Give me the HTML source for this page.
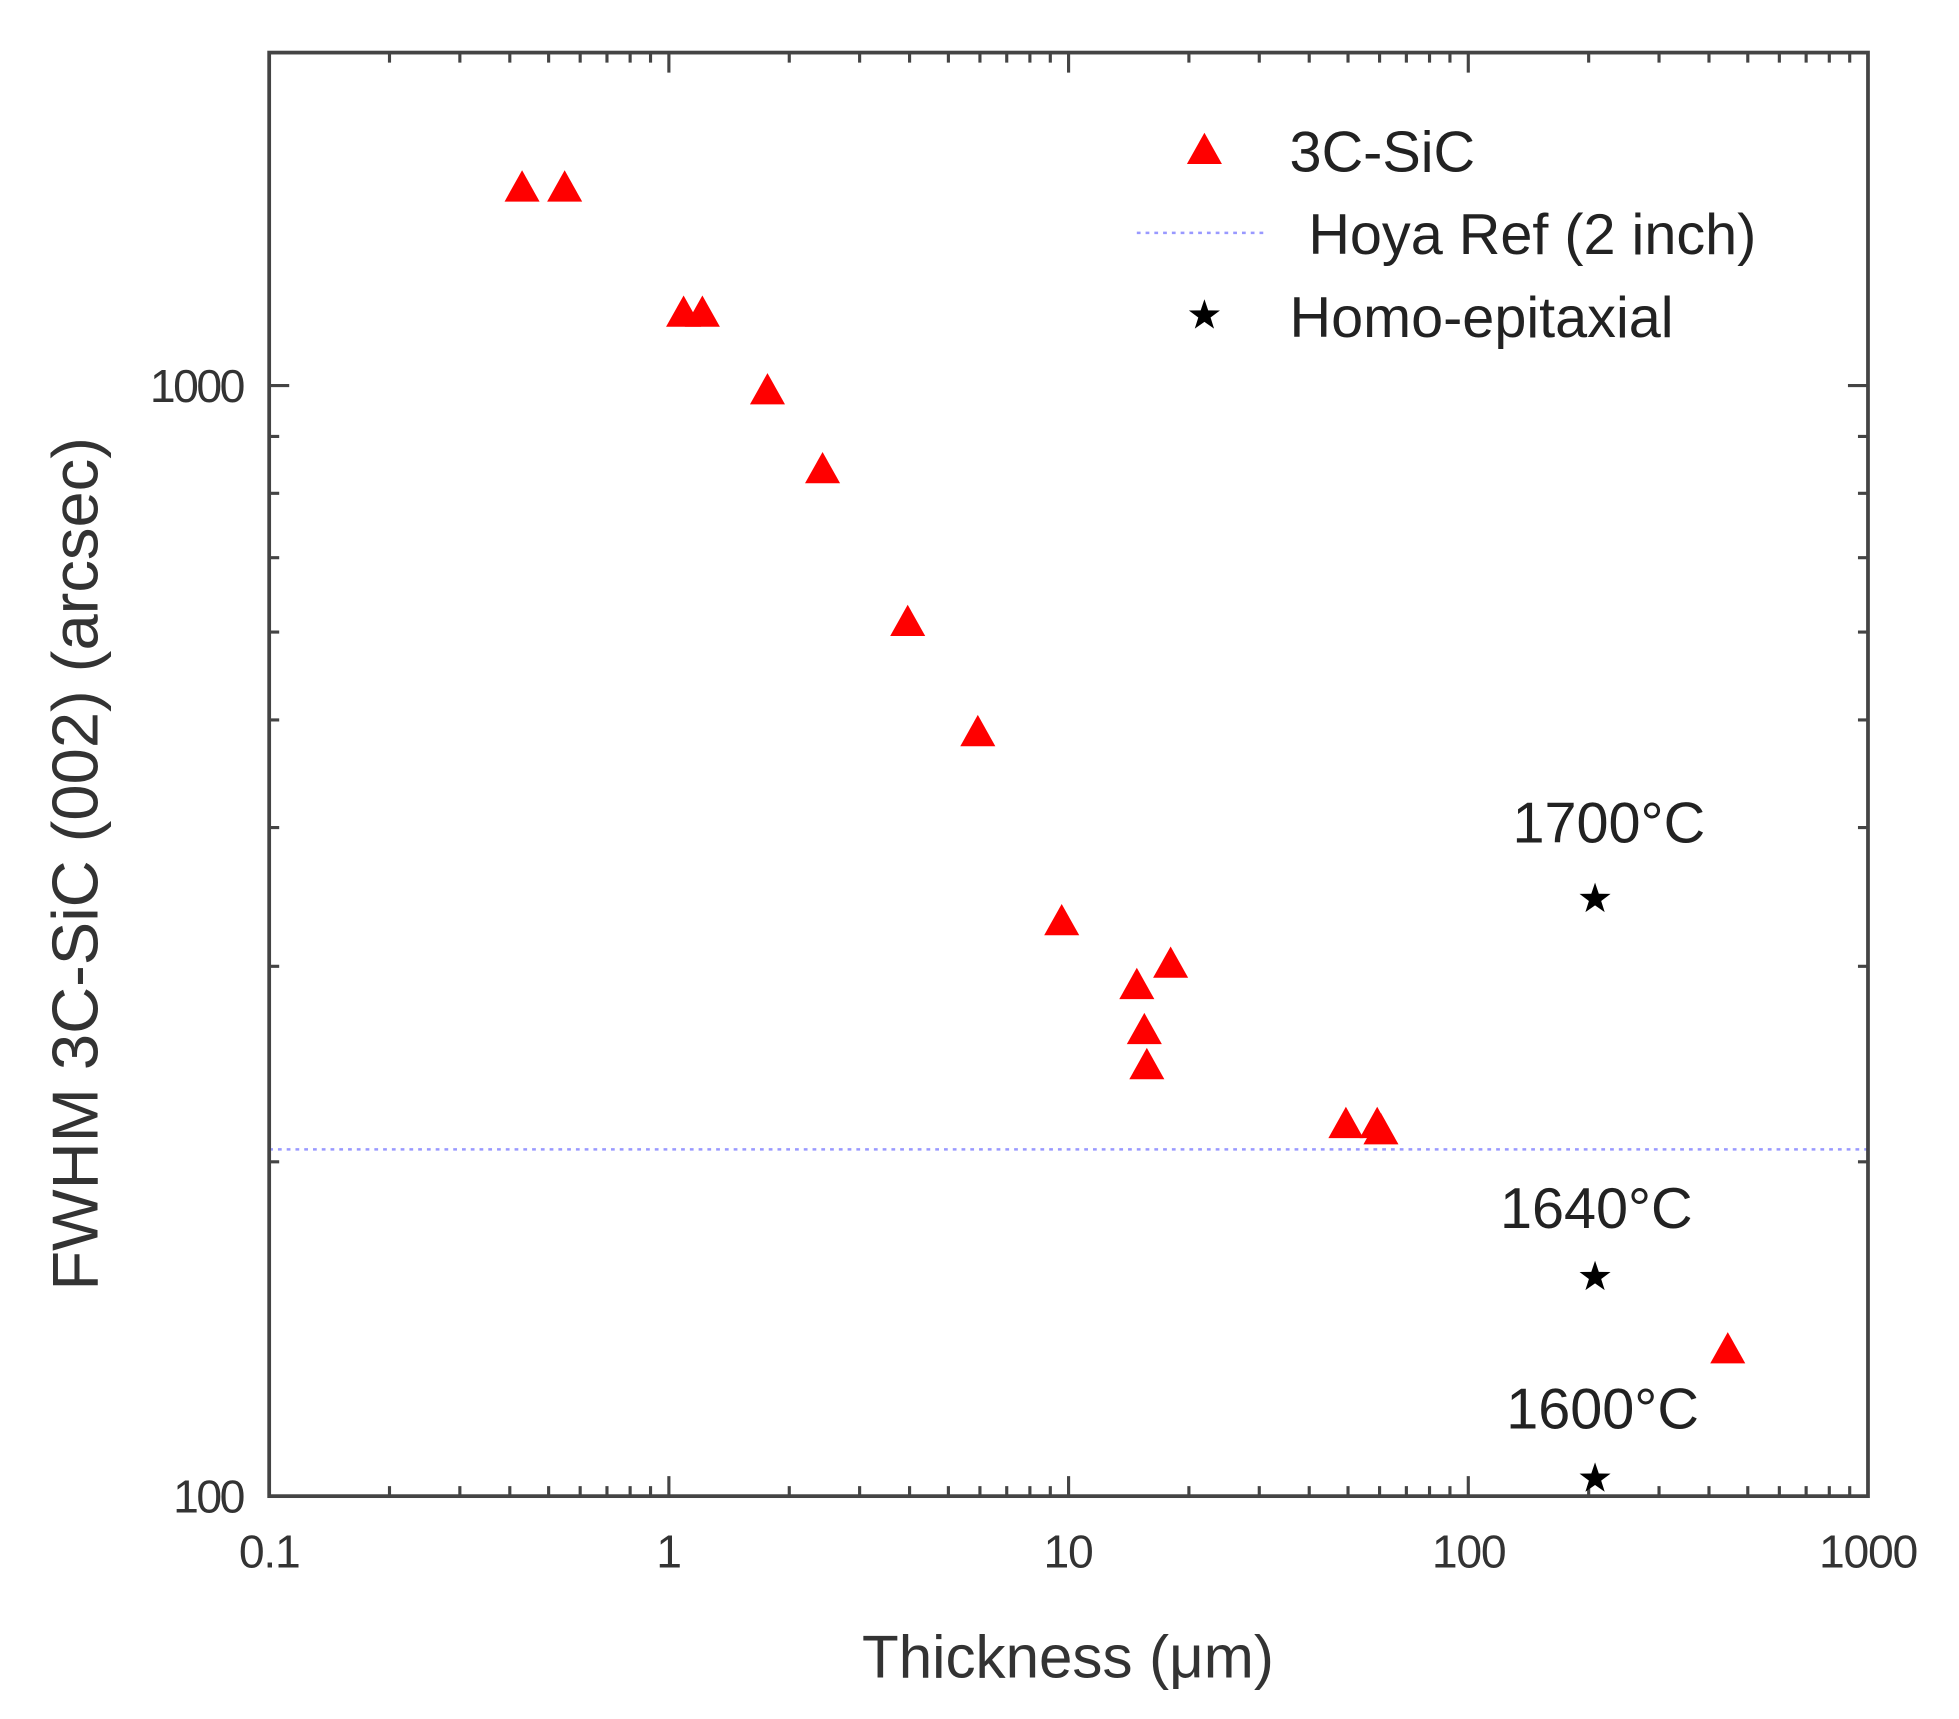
<!DOCTYPE html>
<html><head><meta charset="utf-8"><style>body{margin:0;background:#fff}svg{display:block}</style></head><body>
<svg width="1959" height="1719" viewBox="0 0 1959 1719" xmlns="http://www.w3.org/2000/svg" font-family="Liberation Sans, Arial, sans-serif">
<g transform="scale(1.252)">
<defs>
<polygon id="tri" points="0,-14 14,11 -14,11" fill="#f00"/>
<polygon id="star" points="0,-13 3,-4.1 12.4,-4 4.9,1.6 7.7,10.5 0,5.1 -7.7,10.5 -4.9,1.6 -12.4,-4 -3,-4.1" fill="#000"/>
</defs>
<line x1="215" y1="918" x2="1492" y2="918" stroke="#99f" stroke-width="2" stroke-dasharray="3,4"/>
<rect x="215" y="42" width="1277" height="1153" fill="none" stroke="#444" stroke-width="3"/>
<path fill="none" stroke="#444" stroke-width="2.5" d="
M311.1 1195v-8M367.3 1195v-8M407.2 1195v-8M438.2 1195v-8M463.4 1195v-8M484.8 1195v-8M503.3 1195v-8M519.6 1195v-8M534.25 1195v-16
M630.4 1195v-8M686.6 1195v-8M726.5 1195v-8M757.5 1195v-8M782.7 1195v-8M804.1 1195v-8M822.6 1195v-8M838.9 1195v-8M853.5 1195v-16
M949.6 1195v-8M1005.8 1195v-8M1045.7 1195v-8M1076.7 1195v-8M1101.9 1195v-8M1123.3 1195v-8M1141.8 1195v-8M1158.1 1195v-8M1172.75 1195v-16
M1268.9 1195v-8M1325.1 1195v-8M1365 1195v-8M1396 1195v-8M1421.2 1195v-8M1442.6 1195v-8M1461.1 1195v-8M1477.4 1195v-8
M311.1 42v8M367.3 42v8M407.2 42v8M438.2 42v8M463.4 42v8M484.8 42v8M503.3 42v8M519.6 42v8M534.25 42v16
M630.4 42v8M686.6 42v8M726.5 42v8M757.5 42v8M782.7 42v8M804.1 42v8M822.6 42v8M838.9 42v8M853.5 42v16
M949.6 42v8M1005.8 42v8M1045.7 42v8M1076.7 42v8M1101.9 42v8M1123.3 42v8M1141.8 42v8M1158.1 42v8M1172.75 42v16
M1268.9 42v8M1325.1 42v8M1365 42v8M1396 42v8M1421.2 42v8M1442.6 42v8M1461.1 42v8M1477.4 42v8
M215 928h8M215 771.8h8M215 661h8M215 575h8M215 504.8h8M215 445.4h8M215 394h8M215 348.6h8M215 308h16
M1492 928h-8M1492 771.8h-8M1492 661h-8M1492 575h-8M1492 504.8h-8M1492 445.4h-8M1492 394h-8M1492 348.6h-8M1492 308h-16"/>
<g fill="#333" font-size="37" text-anchor="end" letter-spacing="-2">
<text x="194" y="321">1000</text>
<text x="194" y="1208">100</text>
</g>
<g fill="#333" font-size="37" text-anchor="middle" letter-spacing="-1">
<text x="215" y="1252">0.1</text>
<text x="534" y="1252">1</text>
<text x="853" y="1252">10</text>
<text x="1173" y="1252">100</text>
<text x="1492" y="1252">1000</text>
</g>
<text x="853" y="1340" font-size="48" fill="#333" text-anchor="middle">Thickness (μm)</text>
<text transform="translate(78,690) rotate(-90)" font-size="52" fill="#333" text-anchor="middle">FWHM 3C-SiC (002) (arcsec)</text>
<use href="#tri" x="962" y="120"/>
<text x="1030" y="137" font-size="46" fill="#222">3C-SiC</text>
<line x1="908" y1="186" x2="1010" y2="186" stroke="#99f" stroke-width="2" stroke-dasharray="3,4"/>
<text x="1045" y="203" font-size="46" fill="#222">Hoya Ref (2 inch)</text>
<use href="#star" x="962" y="252"/>
<text x="1030" y="269" font-size="46" fill="#222">Homo-epitaxial</text>
<g>
<use href="#tri" x="417" y="150"/><use href="#tri" x="451" y="150"/>
<use href="#tri" x="546" y="250"/><use href="#tri" x="561" y="250"/>
<use href="#tri" x="613" y="312"/><use href="#tri" x="657" y="375"/>
<use href="#tri" x="725" y="497"/><use href="#tri" x="781" y="585"/>
<use href="#tri" x="848" y="736"/><use href="#tri" x="908" y="787"/>
<use href="#tri" x="935" y="770"/><use href="#tri" x="914" y="823"/>
<use href="#tri" x="916" y="851"/><use href="#tri" x="1075" y="898"/>
<use href="#tri" x="1100" y="898"/><use href="#tri" x="1103" y="903"/>
<use href="#tri" x="1380" y="1078"/>
</g>
<use href="#star" x="1274" y="718"/><use href="#star" x="1274" y="1020"/><use href="#star" x="1274" y="1181"/>
<g font-size="46" fill="#222" text-anchor="middle">
<text x="1285" y="673">1700°C</text>
<text x="1275" y="981">1640°C</text>
<text x="1280" y="1141">1600°C</text>
</g>
</g>
</svg>
</body></html>
